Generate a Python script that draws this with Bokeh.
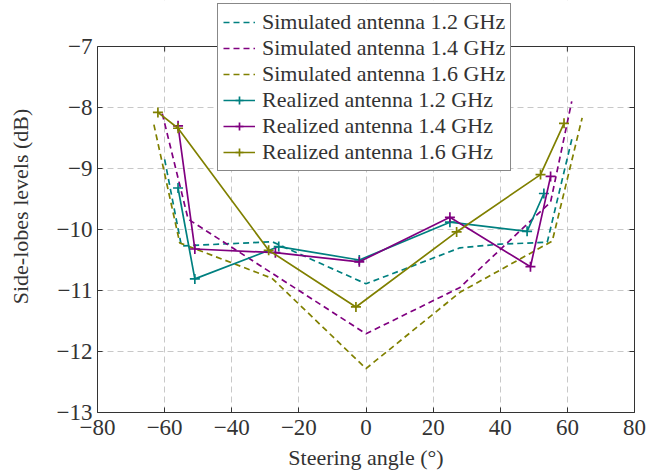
from bokeh.plotting import figure
from bokeh.models import (LinearAxis, FixedTicker, CustomJSTickFormatter, Legend,
                          LegendItem, Range1d)
from bokeh.embed import file_html
from bokeh.resources import INLINE

# Tick positions
x_ticks = [-80, -60, -40, -20, 0, 20, 40, 60, 80]
y_ticks = [-13, -12, -11, -10, -9, -8, -7]

# Simulated side-lobe levels (dB) versus steering angle (deg)
sim_x_12 = [-60, -55, -28, 0, 28, 40, 54, 61.5]
sim_y_12 = [-8.85, -10.27, -10.2, -10.89, -10.3, -10.24, -10.21, -8.48]

sim_x_14 = [-60.7, -53, 0, 28, 55, 61.3]
sim_y_14 = [-8.1, -9.83, -11.71, -10.95, -9.55, -7.9]

sim_x_16 = [-63.2, -55.5, -28, 0, 28, 55.5, 64.4]
sim_y_16 = [-8.28, -10.22, -10.8, -12.28, -11.03, -10.19, -8.17]

# Measured side-lobe levels of the realized antenna
real_x_12 = [-56, -51, -26, -2, 25, 48, 53]
real_y_12 = [-9.32, -10.81, -10.28, -10.50, -9.88, -10.03, -9.41]

real_x_14 = [-56, -51, -27, -2, 25, 49, 55]
real_y_14 = [-8.30, -10.32, -10.38, -10.53, -9.80, -10.61, -9.13]

real_x_16 = [-62, -56, -29, -3, 27, 52, 59]
real_y_16 = [-8.08, -8.34, -10.34, -11.27, -10.04, -9.10, -8.26]

TEAL = "#008080"
VIOLET = "#800080"
OLIVE = "#808000"
FONT = "Liberation Serif"
TEXT = "#333333"
FRAME = "#333333"

W, H = 650, 474
BORDER_L, BORDER_R, BORDER_B = 97, 16, 62
AXIS_BOX_H = 366          # pixel height of the -13 .. -7 box
y_lo, y_hi = y_ticks[0], y_ticks[-1]
px_per_db = AXIS_BOX_H / (y_hi - y_lo)
# The frame reaches the top of the canvas so the legend can sit above the box
y_end = y_lo + (H - BORDER_B) / px_per_db

p = figure(width=W, height=H, output_backend="svg", toolbar_location=None,
           x_range=Range1d(x_ticks[0], x_ticks[-1]), y_range=Range1d(y_lo, y_end),
           min_border_left=BORDER_L, min_border_right=BORDER_R, min_border_top=0,
           min_border_bottom=BORDER_B)

p.outline_line_color = None
p.background_fill_color = "white"
p.border_fill_color = "white"

fmt = CustomJSTickFormatter(code="return tick < 0 ? '\\u2212' + Math.abs(tick) : tick.toString();")

for ax, ticks in ((p.xaxis[0], x_ticks), (p.yaxis[0], y_ticks)):
    ax.ticker = FixedTicker(ticks=ticks)
    ax.formatter = fmt
    ax.major_tick_in = 5
    ax.major_tick_out = 0
    ax.minor_tick_line_color = None
    ax.axis_line_color = FRAME
    ax.major_tick_line_color = FRAME
    ax.major_label_text_font = FONT
    ax.major_label_text_font_size = "23px"
    ax.major_label_text_color = TEXT
    ax.axis_label_text_font = FONT
    ax.axis_label_text_font_size = "22px"
    ax.axis_label_text_font_style = "normal"
    ax.axis_label_text_color = TEXT

p.yaxis[0].bounds = (y_lo, y_hi)
p.xaxis.axis_label = "Steering angle (°)"
p.yaxis.axis_label = "Side-lobes levels (dB)"
p.xaxis.major_label_standoff = 7
p.xaxis.axis_label_standoff = 7
p.yaxis.major_label_standoff = 5
p.yaxis.axis_label_standoff = 21

# Right side of the box with inner ticks
right = LinearAxis(ticker=FixedTicker(ticks=y_ticks), bounds=(y_lo, y_hi),
                   major_tick_in=5, major_tick_out=0, minor_tick_line_color=None,
                   axis_line_color=FRAME, major_tick_line_color=FRAME,
                   formatter=CustomJSTickFormatter(code="return '';"))
p.add_layout(right, "right")

p.xgrid.ticker = FixedTicker(ticks=x_ticks)
p.ygrid.ticker = FixedTicker(ticks=y_ticks)
for g in (p.xgrid[0], p.ygrid[0]):
    g.grid_line_color = "#c8c8c8"
    g.grid_line_dash = "6 4"
    g.grid_line_width = 1

# Blank strip above the box, then its top edge with inner ticks
p.quad(left=x_ticks[0], right=x_ticks[-1], bottom=y_hi, top=y_end,
       fill_color="white", line_color=None)
p.hspan(y=[y_hi], line_color=FRAME, line_width=1)
tick_len = 5 / px_per_db
p.segment(x0=x_ticks, y0=[y_hi] * len(x_ticks), x1=x_ticks,
          y1=[y_hi - tick_len] * len(x_ticks), line_color=FRAME, line_width=1)

LW = 1.7
DASH = "6 4"

s12 = p.line(sim_x_12, sim_y_12, line_color=TEAL, line_width=LW, line_dash=DASH)
s14 = p.line(sim_x_14, sim_y_14, line_color=VIOLET, line_width=LW, line_dash=DASH)
s16 = p.line(sim_x_16, sim_y_16, line_color=OLIVE, line_width=LW, line_dash=DASH)

items = [LegendItem(label="Simulated antenna 1.2 GHz", renderers=[s12]),
         LegendItem(label="Simulated antenna 1.4 GHz", renderers=[s14]),
         LegendItem(label="Simulated antenna 1.6 GHz", renderers=[s16])]

for xs, ys, col, lab in ((real_x_12, real_y_12, TEAL, "Realized antenna 1.2 GHz"),
                         (real_x_14, real_y_14, VIOLET, "Realized antenna 1.4 GHz"),
                         (real_x_16, real_y_16, OLIVE, "Realized antenna 1.6 GHz")):
    ln = p.line(xs, ys, line_color=col, line_width=LW)
    mk = p.scatter(xs, ys, marker="cross", size=10, line_color=col, line_width=1.7)
    items.append(LegendItem(label=lab, renderers=[ln, mk]))

legend = Legend(items=items, location=(120, 241), orientation="vertical",
                label_text_font=FONT, label_text_font_size="22px",
                label_text_color=TEXT, border_line_color="#111111",
                border_line_width=1, background_fill_color="white",
                background_fill_alpha=1, padding=5, spacing=0, margin=0,
                glyph_width=32, glyph_height=20, label_height=20,
                label_standoff=7)
p.add_layout(legend, "center")

open("out.html", "w").write(file_html(p, INLINE))
